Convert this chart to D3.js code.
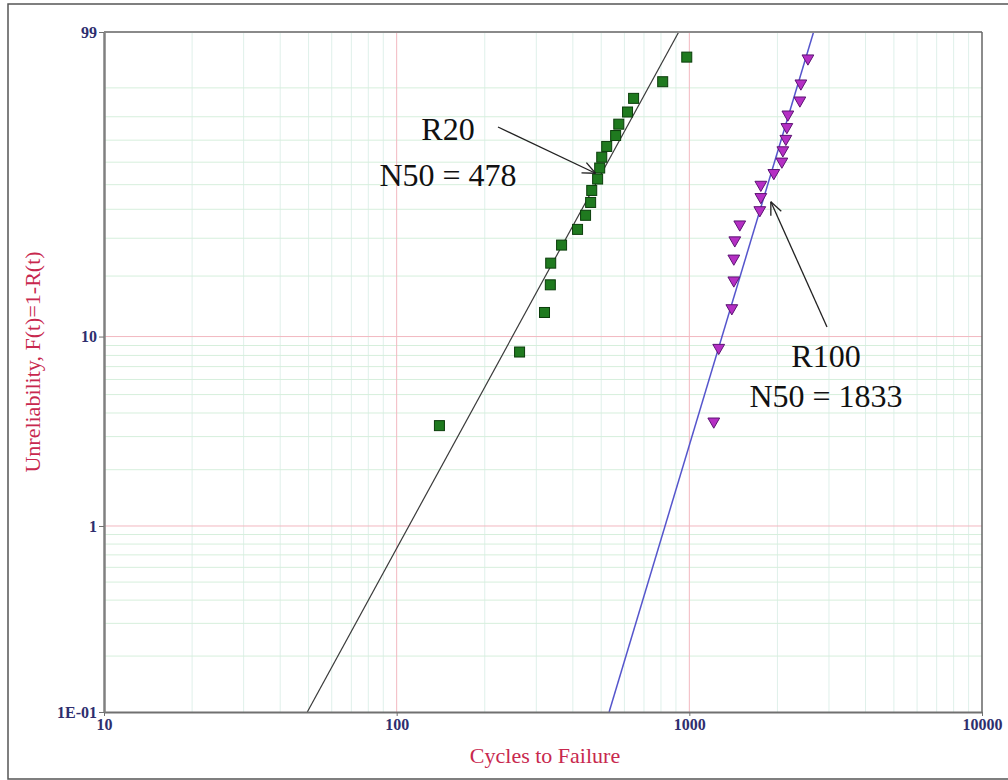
<!DOCTYPE html>
<html>
<head>
<meta charset="utf-8">
<script src="https://cdn.jsdelivr.net/npm/d3@7"></script>
<style>
  html, body { margin: 0; padding: 0; background: #ffffff; }
  svg { display: block; }
  text { font-family: "Liberation Serif", "Times New Roman", serif; }
</style>
</head>
<body>
<svg id="chart" width="1008" height="780"></svg>
<script>
// ---------------- data ----------------
const r20Cycles = [140, 263, 320, 335, 336, 366, 415, 442, 460, 464, 486, 494, 502, 522, 560, 574, 615, 645, 811, 980];
const r20Unrel  = [3.43, 8.33, 13.24, 18.14, 23.04, 27.94, 32.84, 37.75, 42.65, 47.55, 52.45, 57.35, 62.25, 67.16, 72.06, 76.96, 81.86, 86.76, 91.67, 96.57];

const r100Cycles = [1212, 1260, 1397, 1419, 1419, 1430, 1487, 1741, 1755, 1755, 1944, 2071, 2087, 2137, 2154, 2171, 2386, 2405, 2542];
const r100Unrel  = [3.61, 8.76, 13.92, 19.07, 24.23, 29.38, 34.54, 39.69, 44.85, 50.00, 55.15, 60.31, 65.46, 70.62, 75.77, 80.93, 86.08, 91.24, 96.39];

// fitted Weibull lines (end points)
const r20Fit  = [{x: 49.5, f: 0.1}, {x: 920, f: 99}];
const r100Fit = [{x: 532, f: 0.1}, {x: 2658, f: 99}];

const xTickValues = [10, 100, 1000, 10000];
const xTickLabels = ["10", "100", "1000", "10000"];
const yTickValues = [0.1, 1, 10, 99];
const yTickLabels = ["1E-01", "1", "10", "99"];
const yMinorValues = [0.2,0.3,0.4,0.5,0.6,0.7,0.8,0.9, 2,3,4,5,6,7,8,9, 20,30,40,50,60,70,80,90];
const yMajorGrid = [1, 10];
const xMajorGrid = [100, 1000];

const annotations = [
  {label: "R20",  sub: "N50 = 478",  tipX: 478,  tipF: 55},
  {label: "R100", sub: "N50 = 1833", tipX: 1899, tipF: 42.9}
];

// ---------------- layout ----------------
const pL = 104, pR = 982, pT = 32, pB = 712;
const svg = d3.select("#chart");

// Weibull probability transform
const W = f => Math.log(-Math.log(1 - f / 100));

const x = d3.scaleLog().domain([10, 10000]).range([pL, pR]);
const yLin = d3.scaleLinear().domain([W(0.1), W(99)]).range([pB, pT]);
const y = f => yLin(W(f));

// outer frame
svg.append("rect").attr("x", 8).attr("y", 4).attr("width", 1020).attr("height", 775)
  .attr("fill", "#ffffff").attr("stroke", "#555555").attr("stroke-width", 1.5);

// plot background
svg.append("rect").attr("x", pL).attr("y", pT).attr("width", pR - pL).attr("height", pB - pT)
  .attr("fill", "#ffffff");

const grid = svg.append("g");
// minor vertical grid
const xMinor = [];
for (let d = 10; d < 10000; d *= 10) for (let k = 2; k <= 9; k++) xMinor.push(d * k);
grid.selectAll("line.xm").data(xMinor).enter().append("line")
  .attr("x1", d => x(d)).attr("x2", d => x(d)).attr("y1", pT).attr("y2", pB)
  .attr("stroke", "#dff0ea").attr("stroke-width", 1);
// minor horizontal grid
grid.selectAll("line.ym").data(yMinorValues).enter().append("line")
  .attr("x1", pL).attr("x2", pR).attr("y1", d => y(d)).attr("y2", d => y(d))
  .attr("stroke", "#d6efdc").attr("stroke-width", 1);
// major grid
grid.selectAll("line.xM").data(xMajorGrid).enter().append("line")
  .attr("x1", d => x(d)).attr("x2", d => x(d)).attr("y1", pT).attr("y2", pB)
  .attr("stroke", "#f2b8c0").attr("stroke-width", 1);
grid.selectAll("line.yM").data(yMajorGrid).enter().append("line")
  .attr("x1", pL).attr("x2", pR).attr("y1", d => y(d)).attr("y2", d => y(d))
  .attr("stroke", "#f2b8c0").attr("stroke-width", 1);

// clip for fitted lines
svg.append("clipPath").attr("id", "clip").append("rect")
  .attr("x", pL).attr("y", pT).attr("width", pR - pL).attr("height", pB - pT);

const line = d3.line().x(d => x(d.x)).y(d => y(d.f));
svg.append("path").datum(r20Fit).attr("d", line).attr("clip-path", "url(#clip)")
  .attr("fill", "none").attr("stroke", "#3a3a3a").attr("stroke-width", 1.2);
svg.append("path").datum(r100Fit).attr("d", line).attr("clip-path", "url(#clip)")
  .attr("fill", "none").attr("stroke", "#5555cc").attr("stroke-width", 1.5);

// plot frame
svg.append("line").attr("x1", pL).attr("x2", pR).attr("y1", pT).attr("y2", pT)
  .attr("stroke", "#8a8a8a").attr("stroke-width", 2);
svg.append("line").attr("x1", pR).attr("x2", pR).attr("y1", pT).attr("y2", pB)
  .attr("stroke", "#666666").attr("stroke-width", 1.5);

// axes
const xAxis = d3.axisBottom(x).tickValues(xTickValues).tickFormat((d, i) => xTickLabels[i])
  .tickSizeInner(4).tickSizeOuter(0).tickPadding(3);
const gx = svg.append("g").attr("transform", `translate(0,${pB})`).call(xAxis);
gx.select(".domain").attr("stroke", "#707070").attr("stroke-width", 2);
gx.selectAll(".tick line").attr("stroke", "#707070");
gx.selectAll(".tick text").attr("fill", "#2e2e6e").attr("font-size", 16).attr("font-weight", "bold")
  .attr("font-family", "Liberation Serif, serif");

const yAxis = d3.axisLeft(yLin).tickValues(yTickValues.map(W)).tickFormat((d, i) => yTickLabels[i])
  .tickSizeInner(5).tickSizeOuter(0).tickPadding(2);
const gy = svg.append("g").attr("transform", `translate(${pL},0)`).call(yAxis);
gy.select(".domain").attr("stroke", "#808080").attr("stroke-width", 2.5);
gy.selectAll(".tick line").attr("stroke", "#707070");
gy.selectAll(".tick text").attr("fill", "#2e2e6e").attr("font-size", 16).attr("font-weight", "bold")
  .attr("font-family", "Liberation Serif, serif");

// axis titles
svg.append("text").attr("x", 545).attr("y", 763).attr("text-anchor", "middle")
  .attr("fill", "#c8284e").attr("font-size", 22).text("Cycles to Failure");
svg.append("text").attr("transform", "translate(40,362) rotate(-90)").attr("text-anchor", "middle")
  .attr("fill", "#c8284e").attr("font-size", 22).text("Unreliability, F(t)=1-R(t)");

// R20 squares
const r20 = r20Cycles.map((c, i) => ({x: c, f: r20Unrel[i]}));
svg.append("g").selectAll("rect").data(r20).enter().append("rect")
  .attr("x", d => x(d.x) - 5).attr("y", d => y(d.f) - 5).attr("width", 10).attr("height", 10)
  .attr("fill", "#1f7a1f").attr("stroke", "#0b3d0b").attr("stroke-width", 1);

// R100 triangles (down)
const r100 = r100Cycles.map((c, i) => ({x: c, f: r100Unrel[i]}));
const tri = d3.symbol().type(d3.symbolTriangle).size(60);
svg.append("g").selectAll("path").data(r100).enter().append("path")
  .attr("d", tri)
  .attr("transform", d => `translate(${x(d.x)},${y(d.f)}) rotate(180)`)
  .attr("fill", "#b52fc4").attr("stroke", "#5c1473").attr("stroke-width", 1);

// annotations
const ann = svg.append("g");
function arrow(x1, y1, x2, y2) {
  ann.append("line").attr("x1", x1).attr("y1", y1).attr("x2", x2).attr("y2", y2)
    .attr("stroke", "#222").attr("stroke-width", 1.3);
  const a = Math.atan2(y2 - y1, x2 - x1), L = 14, s = 0.42;
  [a + Math.PI - s, a + Math.PI + s].forEach(t => {
    ann.append("line").attr("x1", x2).attr("y1", y2)
      .attr("x2", x2 + L * Math.cos(t)).attr("y2", y2 + L * Math.sin(t))
      .attr("stroke", "#222").attr("stroke-width", 1.3);
  });
}
// R20
ann.append("text").attr("x", 448).attr("y", 140).attr("text-anchor", "middle")
  .attr("font-size", 32).attr("fill", "#111").text(annotations[0].label);
ann.append("text").attr("x", 448).attr("y", 186).attr("text-anchor", "middle")
  .attr("font-size", 32).attr("fill", "#111").text(annotations[0].sub);
arrow(498, 127, x(annotations[0].tipX), y(annotations[0].tipF));
// R100
ann.append("text").attr("x", 826).attr("y", 367).attr("text-anchor", "middle")
  .attr("font-size", 32).attr("fill", "#111").text(annotations[1].label);
ann.append("text").attr("x", 826).attr("y", 407).attr("text-anchor", "middle")
  .attr("font-size", 32).attr("fill", "#111").text(annotations[1].sub);
arrow(827, 327, x(annotations[1].tipX), y(annotations[1].tipF));
</script>
</body>
</html>
